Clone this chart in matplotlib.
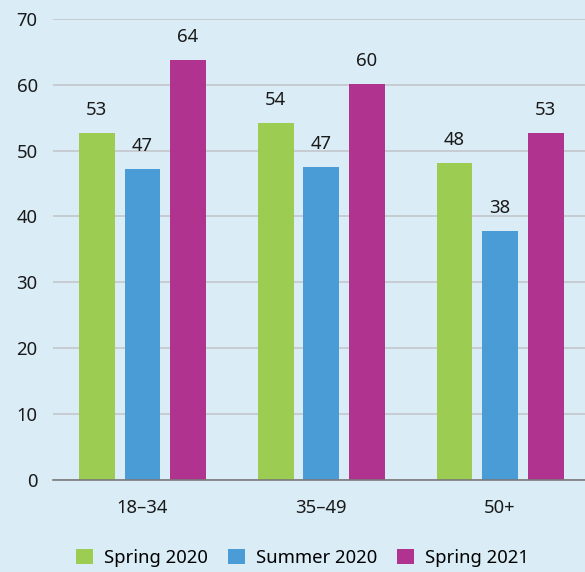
import matplotlib.pyplot as plt
import numpy as np

plt.rcParams['font.family'] = ['Noto Sans', 'DejaVu Sans']

groups = ['18–34', '35–49', '50+']
series = ['Spring 2020', 'Summer 2020', 'Spring 2021']
values = {
    'Spring 2020': [52.7, 54.2, 48.1],
    'Summer 2020': [47.2, 47.5, 37.8],
    'Spring 2021': [63.8, 60.1, 52.7],
}
labels = {
    'Spring 2020': ['53', '54', '48'],
    'Summer 2020': ['47', '47', '38'],
    'Spring 2021': ['64', '60', '53'],
}
colors = ['#9dcc53', '#4a9cd6', '#b0348f']
bg = '#daecf6'

fig = plt.figure(figsize=(5.85, 5.72), dpi=100, facecolor=bg)
ax = fig.add_axes([0.0906, 0.161, 0.9094, 0.806])
ax.set_facecolor(bg)

x = np.arange(len(groups))
width = 0.2
pitch = 0.255
for i, name in enumerate(series):
    pos = x + (i - 1) * pitch
    bars = ax.bar(pos, values[name], width, color=colors[i], label=name, zorder=3)
    for b, lab in zip(bars, labels[name]):
        ax.annotate(lab, (b.get_x() + b.get_width() / 2, b.get_height()),
                    xytext=(0, 10), textcoords='offset points',
                    ha='center', va='bottom', fontsize=13.3, color='#1a1a1a')

ax.set_ylim(0, 70)
ax.set_xlim(-0.5, 2.475)
ax.set_yticks(range(0, 71, 10))
ax.set_xticks(x)
ax.set_xticklabels(groups)
ax.tick_params(axis='both', length=0, labelsize=13.3, colors='#1a1a1a')
ax.tick_params(axis='y', pad=11)
ax.tick_params(axis='x', pad=14)
ax.grid(axis='y', color='#c3c6ca', linewidth=1.2, zorder=0)
for s in ['top', 'right', 'left']:
    ax.spines[s].set_visible(False)
ax.spines['bottom'].set_color('#7a7a7a')
ax.spines['bottom'].set_linewidth(1.2)
ax.spines['bottom'].set_zorder(4)

leg = fig.legend(loc='lower center', bbox_to_anchor=(0.517, -0.02), ncol=3,
                 frameon=False, fontsize=13.3, handlelength=0.9, handleheight=0.9,
                 handletextpad=0.6, columnspacing=1.1)

fig.savefig('out.png', dpi=100, facecolor=bg)
